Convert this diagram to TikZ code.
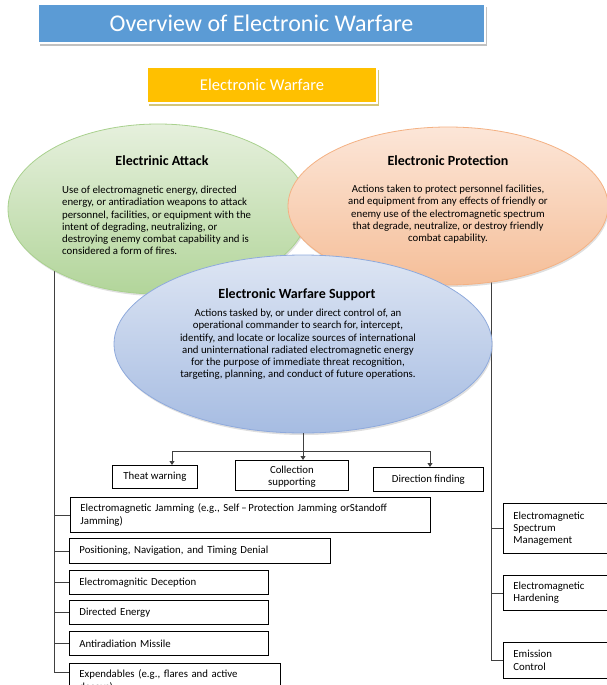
\documentclass[tikz,border=0pt]{standalone}
\usepackage{fontspec}
\setmainfont{Carlito}
\usetikzlibrary{shadows,backgrounds,arrows.meta,shapes.geometric,calc}
\definecolor{titleblue}{HTML}{5B9BD5}
\definecolor{ewyellow}{HTML}{FFC000}
\definecolor{gtop}{HTML}{E6F0DD}
\definecolor{gbot}{HTML}{B2D59A}
\definecolor{gline}{HTML}{A9D18E}
\definecolor{otop}{HTML}{FCE6D8}
\definecolor{obot}{HTML}{F5BE98}
\definecolor{oline}{HTML}{F4B183}
\definecolor{btop}{HTML}{DDE5F3}
\definecolor{bbot}{HTML}{A6BCE2}
\definecolor{bline}{HTML}{8FAADC}
\definecolor{conn}{HTML}{404040}
\tikzset{
  bodytext/.style={font=\fontsize{10.8}{12.2}\selectfont, inner sep=0pt},
  headtext/.style={font=\fontsize{14}{16}\selectfont\bfseries, inner sep=0pt},
  ellipsebox/.style={ellipse, inner sep=0pt, line width=0.8pt,
     drop shadow={shadow xshift=1pt, shadow yshift=-2pt, opacity=0.25}},
  leafbox/.style={draw=black, line width=0.8pt, fill=white, anchor=north west,
     font=\fontsize{10.8}{12.2}\selectfont, align=left, inner xsep=10pt, inner ysep=0pt},
  subbox/.style={draw=black, line width=0.8pt, fill=white, anchor=north west,
     font=\fontsize{10.8}{12.2}\selectfont, align=center, inner sep=0pt},
  trunk/.style={draw=conn, line width=0.8pt},
  arr/.style={draw=conn, line width=0.8pt, -{Triangle[width=5pt,length=4pt]}}
}
\begin{document}
\begin{tikzpicture}[x=1pt,y=-1pt]
\useasboundingbox (0,0) rectangle (607,685);
% title
\node[fill=titleblue, draw=white, line width=2.5pt, minimum width=447pt, minimum height=39pt,
  drop shadow={shadow xshift=2pt, shadow yshift=-3pt, fill=gray!60, opacity=0.8},
  text=white, font=\fontsize{24}{28}\selectfont] (title) at (261.5,23.5) {Overview of Electronic Warfare};
\node[fill=ewyellow, draw=white, line width=2.5pt, minimum width=230pt, minimum height=36pt,
  drop shadow={shadow xshift=1.5pt, shadow yshift=-3pt, fill=brown!50!yellow!70!gray, opacity=0.7},
  text=white, font=\fontsize{16.5}{19}\selectfont] (ew) at (262,85) {Electronic Warfare};
% ellipses
\node[ellipsebox, draw=gline, top color=gtop, bottom color=gbot, minimum width=300pt, minimum height=170pt] (ea) at (158,209) {};
\node[ellipsebox, draw=oline, top color=otop, bottom color=obot, minimum width=320pt, minimum height=158pt] (ep) at (448,206) {};
\node[ellipsebox, draw=bline, top color=btop, bottom color=bbot, minimum width=378pt, minimum height=178pt] (es) at (303,344) {};
% ellipse texts
\node[headtext] (eah) at (162,161) {Electrinic Attack};
\node[bodytext, align=left, anchor=north west] (eab) at (62,186) {Use of electromagnetic energy, directed\\energy, or antiradiation weapons to attack\\personnel, facilities, or equipment with the\\intent of degrading, neutralizing, or\\destroying enemy combat capability and is\\considered a form of fires.};
\node[headtext] (eph) at (448,161) {Electronic Protection};
\node[bodytext, align=center, anchor=north] (epb) at (448,185) {Actions taken to protect personnel facilities,\\and equipment from any effects of friendly or\\enemy use of the electromagnetic spectrum\\that degrade, neutralize, or destroy friendly\\combat capability.};
\node[headtext] (esh) at (297,295) {Electronic Warfare Support};
\node[bodytext, align=center, anchor=north] (esb) at (298,309) {Actions tasked by, or under direct control of, an\\operational commander to search for, intercept,\\identify, and locate or localize sources of international\\and uninternational radiated electromagnetic energy\\for the purpose of immediate threat recognition,\\targeting, planning, and conduct of future operations.};
% ES sub boxes
\node[subbox, minimum width=85pt, minimum height=23pt] (tw) at (112,465) {Theat warning};
\node[subbox, minimum width=113pt, minimum height=30pt, text depth=0pt] (col) at (235,460) {Collection\\supporting};
\node[subbox, minimum width=110pt, minimum height=24pt] (df) at (373,467) {Direction finding};
% EA leaves
\node[leafbox, text width=340pt, minimum height=35pt] (jam) at (70,497) {Electromagnetic Jamming (e.g., Self\,--\,Protection Jamming orStandoff\\Jamming)};
\node[leafbox, text width=241pt, minimum height=25pt] (pos) at (69,538) {Positioning, Navigation, and Timing Denial};
\node[leafbox, text width=179pt, minimum height=24pt] (dec) at (69,570) {Electromagnitic Deception};
\node[leafbox, text width=179pt, minimum height=24pt] (de) at (69,600) {Directed Energy};
\node[leafbox, text width=179pt, minimum height=24pt] (ar) at (69,631) {Antiradiation Missile};
\node[leafbox, text width=191pt, minimum height=35pt, inner ysep=4pt] (exp) at (69,663) {Expendables (e.g., flares and active\\decoys)};
% EP leaves
\node[leafbox, text width=90pt, minimum height=50pt] (esm) at (503,503) {Electromagnetic\\Spectrum\\Management};
\node[leafbox, text width=90pt, minimum height=35pt] (eh) at (503,575) {Electromagnetic\\Hardening};
\node[leafbox, text width=90pt, minimum height=36pt] (ec) at (503,642) {Emission\\Control};
% connectors
\begin{scope}[on background layer]
\coordinate (tl) at (54,250);
\coordinate (tr) at (491,260);
\draw[trunk] (tl) |- ($(exp.north west)+(0,9)$);
\foreach \n in {jam,pos,dec,de,ar} \draw[trunk] (tl |- \n.west) -- (\n.west);
\draw[trunk] (tr) |- (ec.west);
\foreach \n in {esm,eh} \draw[trunk] (tr |- \n.west) -- (\n.west);
\end{scope}
\draw[arr] (es.south) -- (es.south |- col.north);
\draw[trunk] (172,451) -- (430,451);
\draw[arr] (172,451) -- (172,0 |- tw.north);
\draw[arr] (430,451) -- (430,0 |- df.north);
\end{tikzpicture}
\end{document}
